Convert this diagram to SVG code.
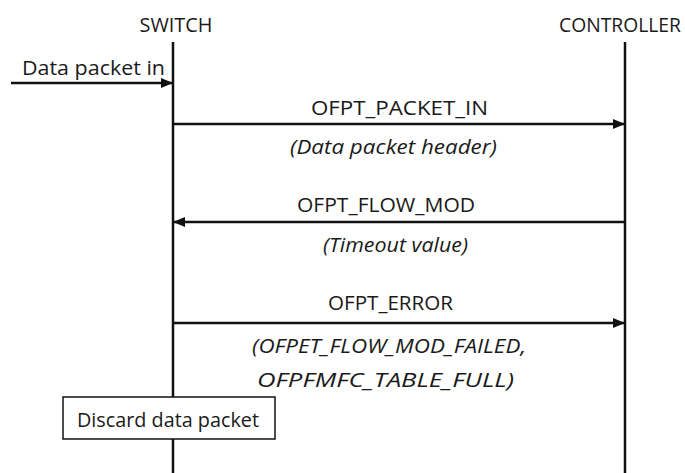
<svg xmlns="http://www.w3.org/2000/svg" width="685" height="473" viewBox="0 0 685 473">
<style>
text{font-family:"Open Sans","Liberation Sans",Arial,sans-serif;font-size:20px;fill:#1a1a1a}
.it{font-style:italic}
.ln{stroke:#111;stroke-width:2.5;fill:none}
.msg{stroke:#111;stroke-width:2.5;fill:none;marker-end:url(#ah)}
</style>
<defs>
<marker id="ah" viewBox="0 0 12 10" refX="11" refY="5" markerWidth="12" markerHeight="10" markerUnits="userSpaceOnUse" orient="auto">
<path d="M0,0 L12,5 L0,10 Z" fill="#111"/>
</marker>
</defs>
<rect width="685" height="473" fill="#fff"/>
<g id="switch">
<text x="176" y="32" text-anchor="middle" textLength="73" lengthAdjust="spacingAndGlyphs">SWITCH</text>
<line class="ln" x1="173" y1="42" x2="173" y2="473"/>
</g>
<g id="controller">
<text x="620" y="32" text-anchor="middle" textLength="122" lengthAdjust="spacingAndGlyphs">CONTROLLER</text>
<line class="ln" x1="625" y1="42" x2="625" y2="473"/>
</g>
<g id="connectors">
<line class="msg" x1="11" y1="83" x2="172" y2="83"/>
<line class="msg" x1="174" y1="124" x2="624" y2="124"/>
<line class="msg" x1="624" y1="222" x2="174" y2="222"/>
<line class="msg" x1="174" y1="323" x2="624" y2="323"/>
</g>
<g id="labels">
<text x="93.5" y="75" text-anchor="middle" textLength="143" lengthAdjust="spacingAndGlyphs">Data packet in</text>
<text x="399.5" y="115" text-anchor="middle" textLength="177" lengthAdjust="spacingAndGlyphs">OFPT_PACKET_IN</text>
<text class="it" x="393.5" y="154" text-anchor="middle" textLength="207" lengthAdjust="spacingAndGlyphs">(Data packet header)</text>
<text x="386" y="212" text-anchor="middle" textLength="178" lengthAdjust="spacingAndGlyphs">OFPT_FLOW_MOD</text>
<text class="it" x="395.5" y="252" text-anchor="middle" textLength="145" lengthAdjust="spacingAndGlyphs">(Timeout value)</text>
<text x="390.5" y="310" text-anchor="middle" textLength="125" lengthAdjust="spacingAndGlyphs">OFPT_ERROR</text>
<text class="it" x="389" y="353" text-anchor="middle" textLength="274" lengthAdjust="spacingAndGlyphs">(OFPET_FLOW_MOD_FAILED,</text>
<text class="it" x="385.5" y="387" text-anchor="middle" textLength="257" lengthAdjust="spacingAndGlyphs">OFPFMFC_TABLE_FULL)</text>
</g>
<g id="discard">
<rect x="63" y="397" width="212" height="42" fill="#fff" stroke="#111" stroke-width="1.5"/>
<text x="168" y="427" text-anchor="middle" textLength="182" lengthAdjust="spacingAndGlyphs">Discard data packet</text>
</g>
</svg>
